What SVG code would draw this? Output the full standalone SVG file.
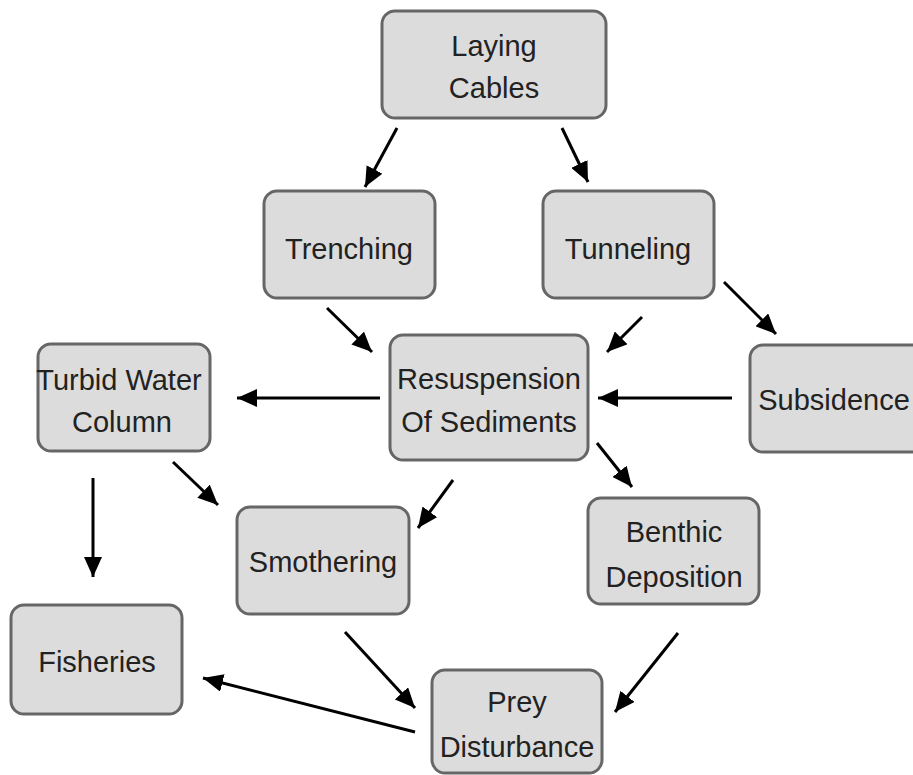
<svg xmlns="http://www.w3.org/2000/svg" width="913" height="775" viewBox="0 0 913 775">
<style>
.box{fill:#dcdcdc;stroke:#666;stroke-width:3}
.lbl{font-family:"Liberation Sans",Arial,sans-serif;font-size:29px;fill:#222;text-anchor:middle}
.edge{stroke:#000;stroke-width:3;fill:none;marker-end:url(#ah)}
</style>
<defs>
<marker id="ah" markerUnits="userSpaceOnUse" markerWidth="22" markerHeight="18" refX="20" refY="9" orient="auto">
<path d="M0,0 L20,9 L0,18 Z" fill="#000"/>
</marker>
</defs>
<rect width="913" height="775" fill="#fff"/>
<g id="connectors">
<line class="edge" x1="397" y1="128" x2="365" y2="187"/>
<line class="edge" x1="562" y1="128" x2="588" y2="182"/>
<line class="edge" x1="327" y1="308" x2="372" y2="352"/>
<line class="edge" x1="642" y1="317" x2="607" y2="352"/>
<line class="edge" x1="380" y1="398" x2="237" y2="398"/>
<line class="edge" x1="732" y1="398" x2="598" y2="398"/>
<line class="edge" x1="724" y1="282" x2="776" y2="334"/>
<line class="edge" x1="597" y1="443" x2="632" y2="487"/>
<line class="edge" x1="453" y1="480" x2="418" y2="528"/>
<line class="edge" x1="173" y1="462" x2="218" y2="505"/>
<line class="edge" x1="93" y1="478" x2="93" y2="577"/>
<line class="edge" x1="345" y1="632" x2="415" y2="708"/>
<line class="edge" x1="678" y1="633" x2="615" y2="712"/>
<line class="edge" x1="415" y1="732" x2="203" y2="678"/>
</g>
<g id="laying-cables"><rect class="box" x="382" y="11" width="224" height="107" rx="13"/><text class="lbl" x="494" y="56">Laying</text><text class="lbl" x="494" y="98">Cables</text></g>
<g id="trenching"><rect class="box" x="264" y="191" width="171" height="107" rx="13"/><text class="lbl" x="349" y="259">Trenching</text></g>
<g id="tunneling"><rect class="box" x="543" y="191" width="171" height="107" rx="13"/><text class="lbl" x="628" y="259">Tunneling</text></g>
<g id="resuspension"><rect class="box" x="390" y="335" width="198" height="125" rx="13"/><text class="lbl" x="489" y="389">Resuspension</text><text class="lbl" x="489" y="432">Of Sediments</text></g>
<g id="turbid-water-column"><rect class="box" x="38" y="344" width="172" height="107" rx="13"/><text class="lbl" x="119" y="390">Turbid Water</text><text class="lbl" x="122" y="432">Column</text></g>
<g id="subsidence"><rect class="box" x="750" y="345" width="175" height="107" rx="13"/><text class="lbl" x="834" y="410">Subsidence</text></g>
<g id="smothering"><rect class="box" x="237" y="507" width="172" height="107" rx="13"/><text class="lbl" x="323" y="572">Smothering</text></g>
<g id="benthic-deposition"><rect class="box" x="588" y="498" width="171" height="106" rx="13"/><text class="lbl" x="674" y="542">Benthic</text><text class="lbl" x="674" y="587">Deposition</text></g>
<g id="fisheries"><rect class="box" x="11" y="605" width="171" height="109" rx="13"/><text class="lbl" x="97" y="672">Fisheries</text></g>
<g id="prey-disturbance"><rect class="box" x="432" y="670" width="170" height="103" rx="13"/><text class="lbl" x="517" y="712">Prey</text><text class="lbl" x="517" y="757">Disturbance</text></g>
</svg>
